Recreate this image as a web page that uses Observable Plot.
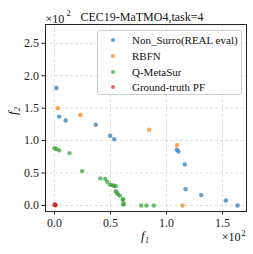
<!DOCTYPE html>
<html><head><meta charset="utf-8">
<script src="https://cdn.jsdelivr.net/npm/d3@7"></script>
<script src="https://cdn.jsdelivr.net/npm/@observablehq/plot@0.6"></script>
<style>
html,body{margin:0;padding:0;background:#fff;}
#wrap{position:relative;width:253px;height:254px;font-family:'Liberation Serif','DejaVu Serif',serif;}
#wrap svg, #wrap svg text{font-family:'Liberation Serif','DejaVu Serif',serif !important;}
#legend{position:absolute;left:97px;top:30px;width:145px;height:65px;border:1px solid #d0d0d0;border-radius:3px;background:rgba(255,255,255,0.85);box-sizing:border-box;font-size:11px;color:#111;}
.row{position:absolute;left:0;height:16px;line-height:16px;white-space:nowrap;}
.dot{position:absolute;left:13px;top:6px;width:4px;height:4px;border-radius:50%;}
.lab{position:absolute;left:34px;top:0;}
</style></head>
<body><div id="wrap"></div>
<script>
const seriesNames = ["Non_Surro(REAL eval)", "RBFN", "Q-MetaSur", "Ground-truth PF"];
const seriesColors = ["#1f77b4", "#ff7f0e", "#2ca02c", "#d62728"];
const nonSurroF1 = [0.018, 0.042, 0.10, 0.369, 0.497, 0.533, 1.092, 1.107, 1.163, 1.17, 1.31, 1.53, 1.634];
const nonSurroF2 = [1.81, 1.37, 1.31, 1.245, 1.075, 1.02, 0.86, 0.833, 0.633, 0.25, 0.16, 0.077, 0.0];
const rbfnF1 = [0.03, 0.232, 0.845, 1.095, 1.143];
const rbfnF2 = [1.50, 1.394, 1.168, 0.93, 0.0];
const qmsF1 = [0.0, 0.018, 0.042, 0.134, 0.247, 0.41, 0.453, 0.47, 0.494, 0.515, 0.533, 0.547, 0.547, 0.556, 0.565, 0.583, 0.61, 0.613, 0.619, 0.613, 0.774, 0.821, 0.887];
const qmsF2 = [0.884, 0.87, 0.85, 0.807, 0.53, 0.417, 0.41, 0.366, 0.324, 0.313, 0.304, 0.298, 0.221, 0.2, 0.175, 0.15, 0.093, 0.093, 0.026, 0.015, 0.0, 0.0, 0.0];
const pfF1 = [0.0, 0.005, 0.01, 0.008];
const pfF2 = [0.012, 0.008, 0.004, 0.014];
const xTicks = [0, 0.5, 1.0, 1.5];
const yTicks = [0, 0.5, 1.0, 1.5, 2.0, 2.5];

const rows = [];
const add = (xs, ys, s) => xs.forEach((x, i) => rows.push({f1: x, f2: ys[i], s}));
add(nonSurroF1, nonSurroF2, seriesNames[0]);
add(rbfnF1, rbfnF2, seriesNames[1]);
add(qmsF1, qmsF2, seriesNames[2]);
add(pfF1, pfF2, seriesNames[3]);

const fmt = d3.format(".1f");
const chart = Plot.plot({
  width: 253, height: 254,
  marginLeft: 45, marginRight: 7, marginTop: 24, marginBottom: 43,
  style: {fontFamily: "'Liberation Serif', 'DejaVu Serif', serif", fontSize: "12px", color: "#222", background: "#fff"},
  x: {domain: [-0.08, 1.714], label: null},
  y: {domain: [-0.093, 2.79], label: null},
  color: {domain: seriesNames, range: seriesColors},
  marks: [
    Plot.gridX(xTicks, {stroke: "#b0b0b0", strokeOpacity: 0.5, strokeDasharray: "3,2", strokeWidth: 0.8}),
    Plot.gridY(yTicks, {stroke: "#b0b0b0", strokeOpacity: 0.5, strokeDasharray: "3,2", strokeWidth: 0.8}),
    Plot.dot(rows, {x: "f1", y: "f2", fill: "s", r: 2.2, fillOpacity: 0.7, stroke: "none"}),
    Plot.frame({stroke: "#222", strokeWidth: 1}),
    Plot.axisX({ticks: xTicks, tickFormat: fmt, tickSize: 3.5, tickPadding: 3, fontSize: 12, fill: "#222", label: null}),
    Plot.axisY({ticks: yTicks, tickFormat: fmt, tickSize: 3.5, tickPadding: 3, fontSize: 12, fill: "#222", label: null}),
    Plot.text(["CEC19-MaTMO4,task=4"], {frameAnchor: "top", dy: -12, dx: -4, fontSize: 12, fill: "#111"}),
    Plot.text(["×10"], {frameAnchor: "top-left", textAnchor: "start", dy: -10, dx: 0, fontSize: 12, fill: "#111"}),
    Plot.text(["2"], {frameAnchor: "top-left", textAnchor: "start", dy: -15, dx: 21, fontSize: 8.5, fill: "#111"}),
    Plot.text(["×10"], {frameAnchor: "bottom-right", textAnchor: "end", dy: 29, dx: -6, fontSize: 12, fill: "#111"}),
    Plot.text(["2"], {frameAnchor: "bottom-right", textAnchor: "end", dy: 24, dx: -1, fontSize: 8.5, fill: "#111"}),
    Plot.text(["f₁"], {frameAnchor: "bottom", dy: 28, dx: -1, fontSize: 13, fontStyle: "italic", fill: "#111"}),
    Plot.text(["f₂"], {frameAnchor: "left", dx: -33, dy: -3, rotate: -90, fontSize: 13, fontStyle: "italic", fill: "#111"})
  ]
});
const wrap = document.getElementById("wrap");
wrap.appendChild(chart);
const leg = document.createElement("div");
leg.id = "legend";
seriesNames.forEach((n, i) => {
  const r = document.createElement("div");
  r.className = "row";
  r.style.top = (1 + i * 15.8) + "px";
  r.style.width = "100%";
  r.innerHTML = `<span class="dot" style="background:${seriesColors[i]};opacity:0.7"></span><span class="lab">${n}</span>`;
  leg.appendChild(r);
});
wrap.appendChild(leg);
</script></body></html>
